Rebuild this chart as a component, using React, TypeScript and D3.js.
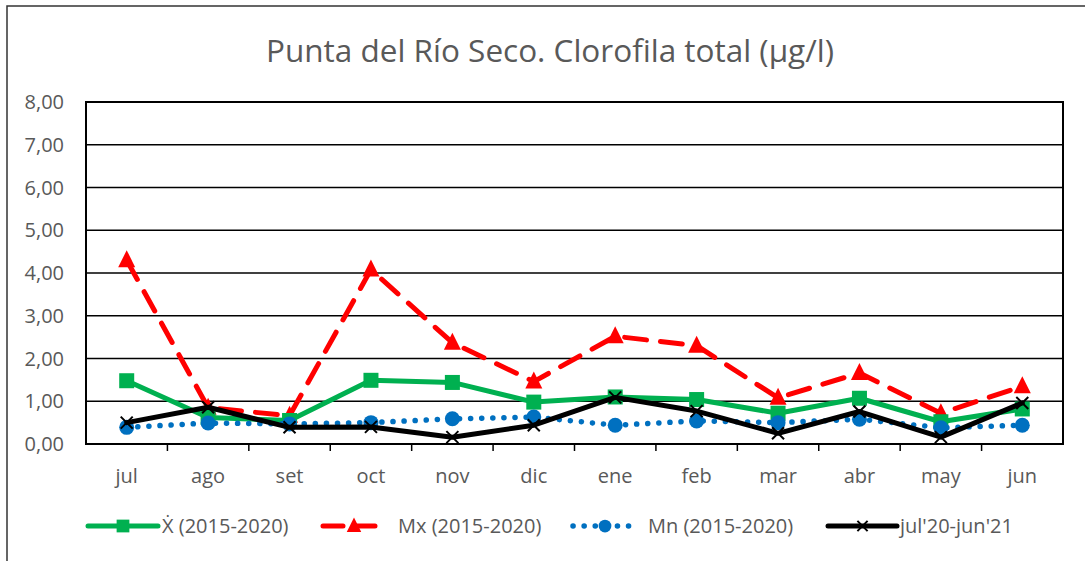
import React from 'react';
import * as d3 from 'd3';

const months = ['jul', 'ago', 'set', 'oct', 'nov', 'dic', 'ene', 'feb', 'mar', 'abr', 'may', 'jun'];
const mean = [1.48, 0.62, 0.55, 1.49, 1.44, 0.98, 1.1, 1.04, 0.72, 1.07, 0.52, 0.82];
const maxs = [4.3, 0.85, 0.66, 4.08, 2.37, 1.46, 2.52, 2.3, 1.08, 1.66, 0.72, 1.35];
const mins = [0.39, 0.49, 0.47, 0.5, 0.59, 0.63, 0.44, 0.54, 0.5, 0.58, 0.38, 0.44];
const current = [0.5, 0.86, 0.39, 0.4, 0.16, 0.44, 1.09, 0.77, 0.25, 0.76, 0.16, 0.96];
const yTicks = [0, 1, 2, 3, 4, 5, 6, 7, 8];

const font = "Open Sans, 'Noto Sans', sans-serif";
const gray = '#595959';

const W = 1085;
const H = 561;
const left = 86;
const right = 1063;
const top = 102;
const bottom = 444;

export default function App() {
  const x = d3.scaleBand<string>().domain(months).range([left, right]);
  const y = d3.scaleLinear().domain([0, 8]).range([bottom, top]);
  const cx = (m: string) => (x(m) as number) + x.bandwidth() / 2;
  const line = (vals: number[]) =>
    d3.line<number>().x((_, i) => cx(months[i])).y(d => y(d))(vals) as string;
  const fmt = (v: number) => v.toFixed(2).replace('.', ',');

  // marker shapes, s = size factor
  const square = (px: number, py: number, k: string, s = 1) => (
    <rect key={k} x={px - 7.5 * s} y={py - 7.5 * s} width={15 * s} height={15 * s} fill="#00b050" />
  );
  const tri = (px: number, py: number, k: string, s = 1) => (
    <path key={k} d={`M${px},${py - 10 * s}L${px + 8.5 * s},${py + 7 * s}L${px - 8.5 * s},${py + 7 * s}Z`} fill="#ff0000" />
  );
  const dot = (px: number, py: number, k: string, s = 1) => (
    <circle key={k} cx={px} cy={py} r={7.5 * s} fill="#0070c0" />
  );
  const cross = (px: number, py: number, k: string, s = 1) => (
    <path key={k} d={`M${px - 6 * s},${py - 6 * s}L${px + 6 * s},${py + 6 * s}M${px + 6 * s},${py - 6 * s}L${px - 6 * s},${py + 6 * s}`}
      stroke="#000" strokeWidth={2} />
  );

  const series = [
    { vals: maxs, color: '#ff0000', width: 5, dash: '22 14', marker: tri, label: 'Mx (2015-2020)' },
    { vals: mean, color: '#00b050', width: 5, dash: undefined, marker: square, label: '\u1E8A (2015-2020)' },
    { vals: mins, color: '#0070c0', width: 5.5, dash: '0.1 11', marker: dot, label: 'Mn (2015-2020)' },
    { vals: current, color: '#000000', width: 5, dash: undefined, marker: cross, label: "jul'20-jun'21" },
  ];
  const legendOrder = [1, 0, 2, 3];
  const legendX = [88, 323, 573, 828];
  const legendLen = [70, 62, 64, 69];
  const legendText = [162, 398, 648, 900];

  return (
    <svg width={W} height={H} style={{ position: 'absolute', left: 0, top: 0 }} fontFamily={font}>
      <rect x={0} y={0} width={W} height={H} fill="#fff" />
      <rect x={7} y={6} width={W + 10} height={H + 10} fill="none" stroke="#333" strokeWidth={1.5} />
      <text x={550} y={62} textAnchor="middle" fontSize={31.5} fill={gray}>
        Punta del Río Seco. Clorofila total (µg/l)
      </text>

      {yTicks.map(t => (
        <g key={t}>
          <line x1={left} x2={right} y1={y(t)} y2={y(t)} stroke="#000" strokeWidth={1.5} />
          <text x={64} y={y(t)} dy="0.36em" textAnchor="end" fontSize={20} fill={gray}>{fmt(t)}</text>
        </g>
      ))}
      <rect x={left} y={top} width={right - left} height={bottom - top} fill="none" stroke="#000" strokeWidth={2} />
      {months.map((m, i) => (
        <g key={m}>
          {i > 0 && <line x1={x(m)} x2={x(m)} y1={bottom} y2={bottom + 7} stroke="#000" strokeWidth={1.5} />}
          <text x={cx(m)} y={483} textAnchor="middle" fontSize={20} fill={gray}>{m}</text>
        </g>
      ))}

      {series.map((s, si) => (
        <g key={si}>
          <path d={line(s.vals)} fill="none" stroke={s.color} strokeWidth={s.width}
            strokeDasharray={s.dash} strokeLinecap="round" strokeLinejoin="round" />
          {s.vals.map((v, i) => s.marker(cx(months[i]), y(v), `${si}-${i}`))}
        </g>
      ))}

      {legendOrder.map((si, li) => {
        const s = series[si];
        const lx = legendX[li];
        const len = legendLen[li];
        const ly = 526;
        return (
          <g key={li}>
            <line x1={lx} x2={lx + len} y1={ly} y2={ly} stroke={s.color} strokeWidth={s.width}
              strokeDasharray={s.dash ? (si === 0 ? '20 12' : '0.1 11') : undefined} strokeLinecap="round" />
            {s.marker(lx + len / 2, ly, `l${li}`, 0.85)}
            <text x={legendText[li]} y={ly} dy="0.36em" fontSize={20} fill={gray}>{s.label}</text>
          </g>
        );
      })}
    </svg>
  );
}
